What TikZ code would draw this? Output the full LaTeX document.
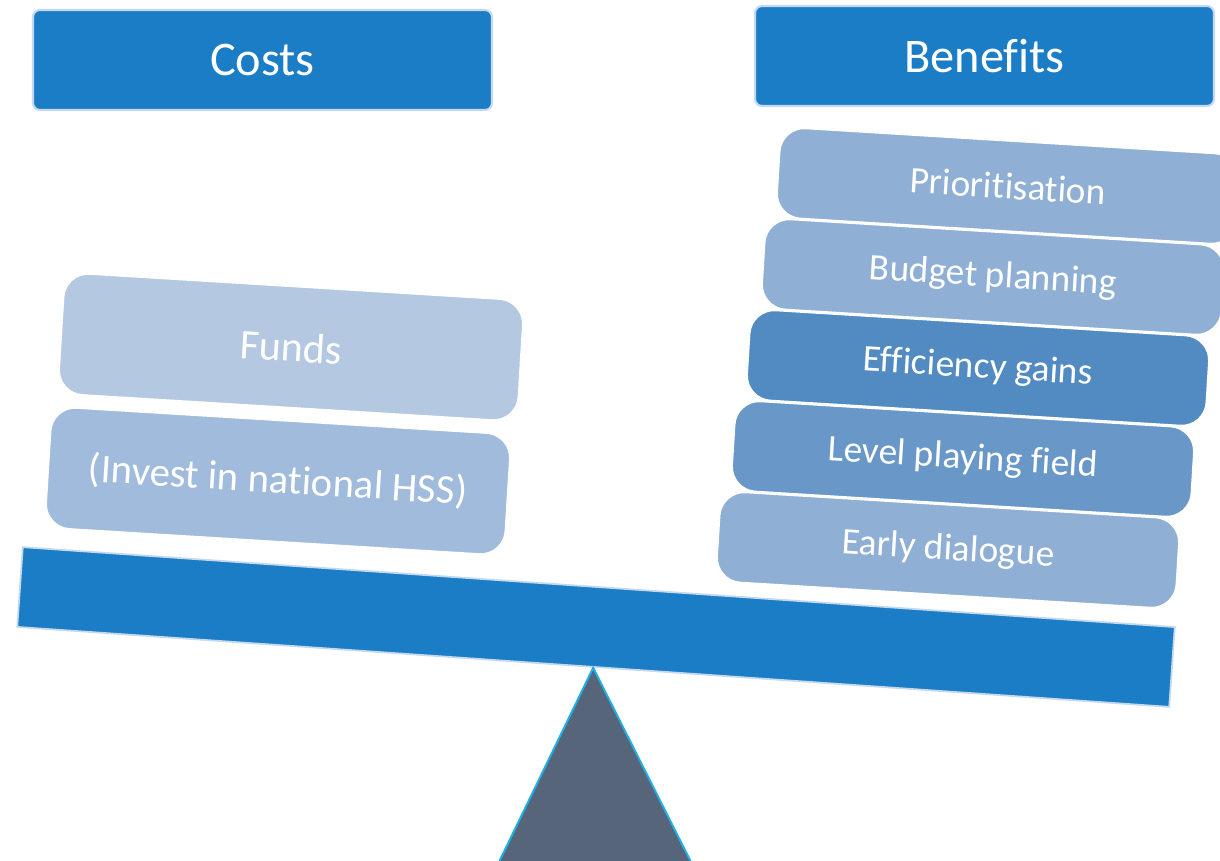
\documentclass[tikz,border=0pt]{standalone}
\usepackage{fontspec}
\setmainfont{Carlito}[Ligatures=CommonOff]
\definecolor{beamblue}{RGB}{27,125,198}
\definecolor{edgeblue}{RGB}{196,216,238}
\definecolor{paleblue}{RGB}{143,175,213}
\definecolor{fundsblue}{RGB}{180,200,226}
\definecolor{investblue}{RGB}{161,187,220}
\definecolor{midblue}{RGB}{82,139,194}
\definecolor{levelblue}{RGB}{104,151,200}
\definecolor{pivotgray}{RGB}{86,101,121}
\definecolor{pivotedge}{RGB}{30,176,232}

\begin{document}
\begin{tikzpicture}[x=0.02cm, y=-0.02cm,
    header/.style={draw=edgeblue, line width=1.2pt, fill=beamblue, rounded corners=4pt,
      minimum width=9.18cm, minimum height=2cm, text=white, font=\fontsize{27.5}{32}\selectfont},
    weight/.style={draw=white, line width=0.8pt, rounded corners=14pt, rotate=-3.5,
      minimum width=9.2cm, text=white, inner sep=0pt},
    cost/.style={weight, minimum height=2.42cm},
    gain/.style={weight, minimum height=1.8cm, font=\fontsize{21.3}{25}\selectfont}]
        \useasboundingbox (0,0) rectangle (1220,861);
        \clip (0,0) rectangle (1220,861);
        \node[header] (costs) at (262.5,60) {Costs};
        \node[header] (benefits) at (984.5,56) {Benefits};
        \node[draw=edgeblue, line width=1pt, fill=beamblue, rotate=-3.97,
          minimum width=23.1cm, minimum height=1.6cm] (beam) at (596,627) {};
        \coordinate (apex) at (beam.south);
        \draw[fill=pivotgray, draw=pivotedge, line width=1.1pt] (apex) -- (499,862) -- (691,862) -- cycle;
        \node[cost, fill=fundsblue, font=\fontsize{24}{29}\selectfont] (funds) at (291,347) {Funds};
        \node[cost, fill=investblue, font=\fontsize{23.2}{27}\selectfont] (invest) at (278,481) {(Invest in national HSS)};
        \node[gain, fill=paleblue] (prio) at (1008,186) {Prioritisation};
        \node[gain, fill=paleblue] (budget) at (993,277) {Budget planning};
        \node[gain, fill=midblue] (effic) at (978,368) {Efficiency gains};
        \node[gain, fill=levelblue] (level) at (963,459) {Level playing field};
        \node[gain, fill=paleblue] (early) at (948,550) {Early dialogue};
\end{tikzpicture}
\end{document}
